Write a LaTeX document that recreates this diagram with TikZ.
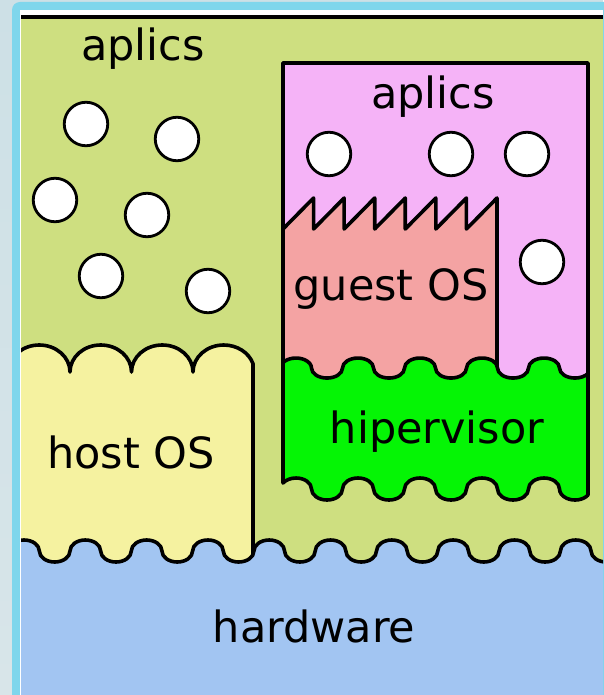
\documentclass[tikz,border=0pt]{standalone}
\usepackage{fontspec}
\setmainfont{DejaVu Sans}
\definecolor{bgout}{HTML}{CDE0E6}
\definecolor{bgoutlow}{HTML}{D8E5E9}
\definecolor{framec}{HTML}{7FD6EC}
\definecolor{panelc}{HTML}{CEDF80}
\definecolor{appc}{HTML}{F5B3F7}
\definecolor{guestc}{HTML}{F4A3A3}
\definecolor{hyperc}{HTML}{05F505}
\definecolor{hostc}{HTML}{F5F2A0}
\definecolor{hwc}{HTML}{A2C5F2}
\begin{document}
\begin{tikzpicture}[x=1pt,y=-1pt,
  outline/.style={draw=black,line width=3.6pt,line join=round},
  app/.style={circle,draw=black,fill=white,line width=2.8pt,minimum size=43.5pt,inner sep=0pt},
  lbl/.style={font=\fontsize{43}{51}\selectfont,anchor=base,inner sep=0pt}]
\useasboundingbox (0,0) rectangle (603,695);
% slide background and frame
\shade[top color=bgout,bottom color=bgoutlow] (0,0) rectangle (603,695);
\fill[framec,rounded corners=8pt] (12,2) rectangle (640,730);
\fill[white] (20,10) rectangle (603,695);
\begin{scope}
  \clip (21,17.5) rectangle (603,695);
  \fill[panelc] (21,17.5) rectangle (603,695);
  % host OS with scalloped top
  \filldraw[outline,fill=hostc] (8.5,372)
    \foreach \i in {1,2,3} {arc[start angle=180,end angle=0,x radius=30.75pt,y radius=27pt]}
    arc[start angle=180,end angle=18,x radius=30.75pt,y radius=27pt]
    -- (253,620) -- (8.5,620) -- cycle;
  % applications box of the virtual machine
  \filldraw[outline,fill=appc] (283,63) rectangle (588,430);
  % guest OS with saw-tooth top
  \filldraw[outline,fill=guestc] (283,229)
    \foreach \k in {1,...,6} { -- ({283+\k*30.57},198) -- ({283+\k*30.57},229) }
    -- (497,198) -- (497,430) -- (283,430) -- cycle;
  % hypervisor with wavy top and bottom
  \filldraw[outline,fill=hyperc] (283,362.6)
    arc[start angle=147,end angle=0,x radius=15.5pt,y radius=10pt]
    \foreach \i in {1,...,4} {
      arc[start angle=180,end angle=360,x radius=15.5pt,y radius=10pt]
      arc[start angle=180,end angle=0,x radius=15.5pt,y radius=10pt] }
    arc[start angle=180,end angle=327,x radius=15.5pt,y radius=10pt]
    -- (588,495)
    arc[start angle=-33,end angle=-180,x radius=15.5pt,y radius=11pt]
    \foreach \i in {1,...,4} {
      arc[start angle=0,end angle=180,x radius=15.5pt,y radius=11pt]
      arc[start angle=0,end angle=-180,x radius=15.5pt,y radius=11pt] }
    arc[start angle=0,end angle=147,x radius=15.5pt,y radius=11pt]
    -- cycle;
  % hardware with wavy top
  \filldraw[outline,fill=hwc] (8.7,551)
    \foreach \i in {1,...,10} {
      arc[start angle=180,end angle=0,x radius=15.325pt,y radius=11pt]
      arc[start angle=180,end angle=360,x radius=15.325pt,y radius=11pt] }
    -- (625,730) -- (8.7,730) -- cycle;
\end{scope}
\draw[line width=4pt] (21,17.5) -- (603,17.5);
% applications
\node[app] (h1) at (86,124) {};
\node[app] (h2) at (177,139) {};
\node[app] (h3) at (55,200) {};
\node[app] (h4) at (147,215) {};
\node[app] (h5) at (101,276) {};
\node[app] (h6) at (208,291) {};
\node[app] (g1) at (329,154) {};
\node[app] (g2) at (451,154) {};
\node[app] (g3) at (527,154) {};
\node[app] (g4) at (542,262) {};
% labels
\node[lbl] (hostapps) at (143,61) {aplics};
\node[lbl] (guestapps) at (433,109) {aplics};
\node[lbl] (guestos) at (391,300) {guest OS};
\node[lbl] (hyper) at (437,443) {hipervisor};
\node[lbl] (hostos) at (131,468) {host OS};
\node[lbl] (hw) at (314,642) {hardware};
\end{tikzpicture}
\end{document}
